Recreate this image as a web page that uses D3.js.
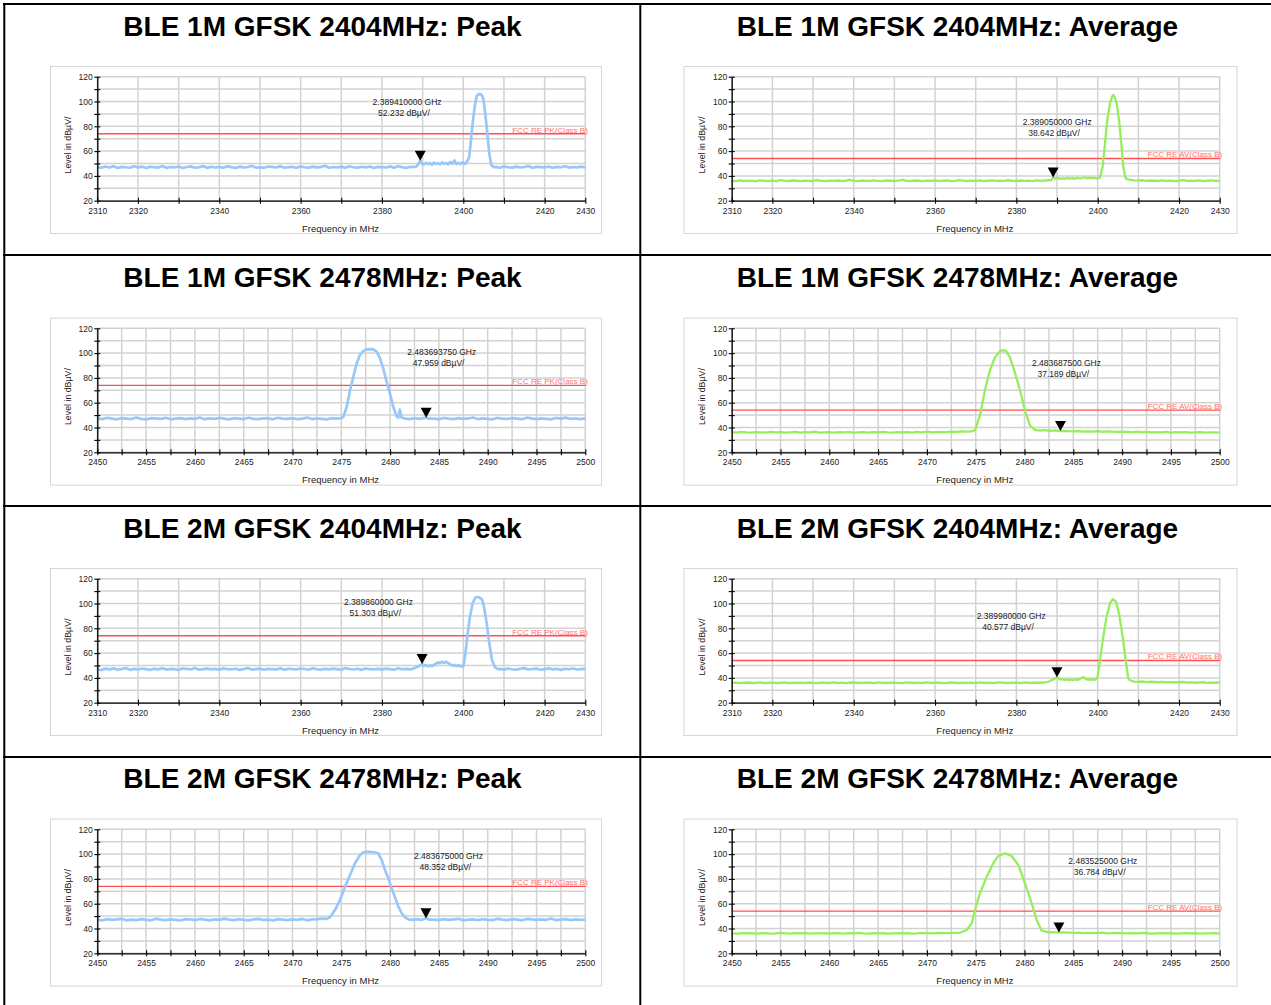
<!DOCTYPE html>
<html>
<head>
<meta charset="utf-8">
<script src="https://cdn.jsdelivr.net/npm/d3@7"></script>
<style>
  body { margin: 0; background: #fff; }
  svg { display: block; }
  text { font-family: "Liberation Sans", Arial, Helvetica, sans-serif; }
</style>
</head>
<body>
<svg id="chart" width="1271" height="1005"></svg>
<script>
// ---- Panel titles (row by row, left then right) ----
const titles = [
  "BLE 1M GFSK 2404MHz: Peak", "BLE 1M GFSK 2404MHz: Average",
  "BLE 1M GFSK 2478MHz: Peak", "BLE 1M GFSK 2478MHz: Average",
  "BLE 2M GFSK 2404MHz: Peak", "BLE 2M GFSK 2404MHz: Average",
  "BLE 2M GFSK 2478MHz: Peak", "BLE 2M GFSK 2478MHz: Average"
];
const detectors = ["peak", "avg", "peak", "avg", "peak", "avg", "peak", "avg"];

// ---- Limits (dBµV/m) ----
const peakLimit = 74;
const avgLimit = 54;
const peakLimitName = "FCC RE PK(Class B)";
const avgLimitName = "FCC RE AV(Class B)";

// ---- Axes ----
const lowSpan = [2310, 2430];
const highSpan = [2450, 2500];
const lowTickLabels = [2310, 2320, 2340, 2360, 2380, 2400, 2420, 2430];
const highTickLabels = [2450, 2455, 2460, 2465, 2470, 2475, 2480, 2485, 2490, 2495, 2500];
const levelSpan = [20, 120];
const levelTickLabels = [20, 40, 60, 80, 100, 120];

// ---- Markers ----
const markerFreqs = [2389.41, 2389.05, 2483.69375, 2483.6875, 2389.86, 2389.98, 2483.675, 2483.525];
const markerLevels = [52.232, 38.642, 47.959, 37.189, 51.303, 40.577, 48.352, 36.784];

// ---- Traces: floor samples from the span start (lower) and up to the span end (upper),
//      plus the [MHz, dBµV/m] points around the carrier ----
// 1M 2404 peak (1 MHz steps)
const pk1m2404Lower = [
  47.2,46.5,47.6,46.8,47.9,46.4,47.3,47.0,46.6,47.8,
  46.9,47.5,46.3,47.4,47.1,46.7,48.0,46.5,47.3,46.9,
  47.6,46.4,47.2,47.7,46.6,47.0,47.9,46.5,47.4,46.8,
  47.3,46.6,47.8,47.1,46.4,47.5,46.9,47.2,48.1,46.7,
  47.0,46.5,47.6,47.3,46.8,47.9,46.6,47.1,47.4,46.5,
  47.7,47.0,46.7,47.5,46.9,47.3,48.2,46.6,47.2,46.8,
  47.5,46.5,47.8,47.0,46.7,47.4,46.9,47.6,46.4,47.3,
  47.1,46.8,47.7,46.6,47.9,47.0,46.5,47.4,47.2
];
const pk1m2404Upper = [
  47.3,46.6,47.8,47.0,46.7,47.5,46.9,47.2,48.0,46.5,
  47.4,47.1,46.8,47.6,46.6,47.3,47.0,47.8,46.7,47.2,
  46.9,47.5,46.8
];
const pk1m2404Carrier = [
  [2388.5,47.6],[2389.0,49.8],[2389.41,52.232],[2389.8,50.1],[2390.3,49.2],[2390.8,50.6],
  [2391.3,49.5],[2391.8,50.3],[2392.3,49.0],[2392.8,50.8],[2393.3,49.6],[2393.8,50.2],
  [2394.3,49.3],[2394.8,50.9],[2395.3,49.7],[2395.8,50.4],[2396.3,49.4],[2396.8,51.2],
  [2397.3,49.8],[2397.8,52.5],[2398.3,49.6],[2398.8,50.5],[2399.3,49.5],[2399.8,51.0],
  [2400.3,49.7],[2400.7,50.4],[2401.0,52.0],[2401.47,55.5],[2401.8,66.3],[2402.3,82.4],
  [2402.8,95.8],[2403.29,104.4],[2403.78,106.0],[2404.42,105.8],[2404.9,102.6],[2405.4,90.5],
  [2405.9,74.4],[2406.39,58.2],[2406.88,48.8],[2407.2,47.8],[2407.5,47.1]
];

// 1M 2404 average (1 MHz steps)
const av1m2404Lower = [
  36.1,35.8,36.3,35.9,36.2,36.0,35.7,36.4,36.1,35.9,
  36.2,35.8,36.6,36.0,35.9,36.3,36.1,35.8,36.2,36.0,
  35.9,36.5,36.1,35.8,36.2,36.0,36.3,35.9,36.1,36.7,
  36.0,35.8,36.2,36.1,35.9,36.4,36.0,35.8,36.3,36.1,
  35.9,36.2,36.8,36.0,35.9,36.3,36.1,35.8,36.2,36.0,
  36.4,35.9,36.1,36.3,35.8,36.0,36.6,36.1,35.9,36.2,
  36.0,36.3,35.8,36.1,36.4,35.9,36.2,36.0,36.5,36.1,
  35.9,36.3,36.0,36.2,35.8,36.4,36.1,36.3,36.6
];
const av1m2404Upper = [
  36.8,36.4,36.2,36.5,36.0,36.3,36.1,35.9,36.4,36.0,
  36.2,35.8,36.1,36.5,35.9,36.2,36.0,36.3,35.8,36.1,
  36.4,35.9,36.0
];
const av1m2404Carrier = [
  [2388.5,36.4],[2389.05,38.642],[2389.6,37.8],[2390.2,38.3],[2390.8,37.6],[2391.4,38.1],
  [2392.0,37.7],[2392.6,38.4],[2393.2,37.8],[2393.8,38.2],[2394.4,37.6],[2395.0,38.5],
  [2395.6,37.9],[2396.2,38.3],[2396.8,38.9],[2397.4,38.0],[2398.0,38.6],[2398.6,38.1],
  [2399.2,38.4],[2399.8,38.0],[2400.3,38.3],[2400.56,38.8],[2401.22,47.4],[2401.79,66.3],
  [2402.36,85.1],[2403.02,98.5],[2403.59,104.4],[2403.85,105.2],[2404.08,104.4],[2404.67,98.5],
  [2405.23,85.1],[2405.8,66.3],[2406.29,47.4],[2406.88,37.9],[2407.5,37.2]
];

// 1M 2478 peak (0.5 MHz steps)
const pk1m2478Lower = [
  47.4,46.7,47.9,47.1,46.6,47.6,47.2,46.8,48.0,47.0,
  46.6,47.5,47.3,46.9,47.8,46.6,47.2,47.6,46.8,47.4,
  47.0,48.1,46.7,47.3,46.9,47.7,47.1,46.6,47.5,47.2,
  46.8,47.9,47.0,46.7,47.4,47.3,46.6,47.8,47.1,46.9,
  47.6,46.7,47.2,48.0,46.8,47.4,47.0,46.6,47.5,47.2
];
const pk1m2478Upper = [
  47.1,46.6,47.7,47.2,46.8,47.5,46.9,47.3,48.1,46.7,
  47.4,47.0,46.6,47.8,47.2,46.9,47.5,47.1,46.7,47.9,
  47.3,46.8,47.4,47.0,46.6,47.7,47.2,48.0,46.9,47.3,
  46.7,47.3
];
const pk1m2478Carrier = [
  [2475.0,47.6],[2475.2,48.4],[2475.55,56.5],[2475.9,70.0],[2476.23,80.8],[2476.58,91.6],
  [2476.9,98.4],[2477.25,101.8],[2477.6,103.0],[2477.95,103.2],[2478.28,103.0],[2478.63,101.0],
  [2478.97,95.7],[2479.3,87.6],[2479.65,76.7],[2479.99,67.3],[2480.33,56.5],[2480.68,48.9],
  [2480.85,48.0],[2481.0,54.4],[2481.15,48.2],[2481.5,47.2],[2482.0,46.8],[2482.5,47.5],
  [2483.0,47.0],[2483.69375,47.959],[2484.0,47.1]
];

// 1M 2478 average (0.5 MHz steps)
const av1m2478Lower = [
  36.2,35.9,36.4,36.0,35.8,36.3,36.1,35.9,36.5,36.0,
  36.2,35.8,36.1,36.4,35.9,36.2,36.0,36.6,35.9,36.1,
  36.3,35.8,36.2,36.0,36.4,35.9,36.1,36.3,35.8,36.2,
  36.0,36.5,36.1,35.9,36.3,36.0,36.2,35.8,36.4,36.1,
  36.6,36.0,36.3,36.5,36.2,36.7,36.4,36.8,36.6
];
const av1m2478Upper = [
  37.0,36.8,37.1,36.7,36.9,36.6,37.0,36.5,36.8,36.6,
  36.4,36.7,36.5,36.3,36.6,36.2,36.5,36.0,36.3,36.1,
  36.4,35.9,36.2,36.0,36.3,35.8,36.1,36.2,35.9,36.0,
  36.1,35.8
];
const av1m2478Carrier = [
  [2474.5,36.9],[2474.93,37.6],[2475.44,49.7],[2475.95,70.0],[2476.46,86.2],[2476.98,96.7],
  [2477.49,101.6],[2477.8,102.4],[2478.1,101.8],[2478.5,96.7],[2479.0,84.6],[2479.54,70.0],
  [2480.05,53.8],[2480.56,41.6],[2481.07,38.0],[2481.6,37.4],[2482.1,37.8],[2482.6,37.2],
  [2483.1,37.6],[2483.6875,37.189],[2484.0,37.3]
];

// 2M 2404 peak (1 MHz steps)
const pk2m2404Lower = [
  47.0,46.4,47.5,46.9,47.7,46.6,47.2,47.9,46.5,47.3,
  46.8,47.6,47.1,46.5,47.4,46.9,47.8,46.7,47.2,47.0,
  46.5,47.6,47.3,46.8,48.0,46.6,47.1,47.5,46.9,47.3,
  46.6,47.7,47.0,46.8,47.4,46.5,47.2,47.9,46.7,47.1,
  47.5,46.6,47.3,47.0,46.8,47.7,46.5,47.4,47.1,46.9,
  47.6,47.2,46.6,47.8,47.0,46.7,47.3,46.9,47.5,47.1,
  46.6,47.9,47.2,46.8,47.4,46.5,47.6,47.0,46.9,47.3,
  46.7,47.5,47.1,46.6,47.8,47.0,47.3,46.8
];
const pk2m2404Upper = [
  47.3,46.7,47.6,47.0,46.6,47.4,47.9,46.8,47.2,47.5,
  46.6,47.1,47.7,46.9,47.3,46.5,47.4,47.0,47.6,46.8,
  47.2,47.0
];
const pk2m2404Carrier = [
  [2387.5,47.3],[2388.0,47.9],[2388.5,48.6],[2389.0,49.4],[2389.5,50.2],[2389.86,51.303],
  [2390.3,49.6],[2390.8,50.4],[2391.3,49.3],[2391.8,50.1],[2392.3,49.5],[2392.8,50.6],
  [2393.3,51.4],[2393.8,52.6],[2394.3,51.8],[2394.8,53.2],[2395.3,52.1],[2395.8,53.0],
  [2396.3,51.9],[2396.8,51.0],[2397.3,49.8],[2397.8,50.5],[2398.3,49.4],[2398.8,50.2],
  [2399.3,49.3],[2399.7,49.8],[2399.99,49.0],[2400.41,57.1],[2400.98,73.2],[2401.64,89.4],
  [2402.3,100.2],[2402.94,104.7],[2403.45,105.2],[2403.93,105.0],[2404.59,103.4],[2405.08,97.4],
  [2405.75,84.0],[2406.39,67.9],[2407.05,54.4],[2407.79,48.5],[2408.2,47.6],[2408.6,47.1]
];

// 2M 2404 average (1 MHz steps)
const av2m2404Lower = [
  36.0,36.2,35.8,36.1,36.3,35.9,36.0,36.4,35.8,36.1,
  36.2,35.9,36.0,36.3,35.8,36.1,36.0,36.2,35.9,36.3,
  36.0,35.8,36.2,36.1,35.9,36.4,36.0,36.2,35.8,36.1,
  36.3,35.9,36.0,36.2,36.1,35.8,36.3,36.0,35.9,36.2,
  36.1,36.0,35.8,36.3,36.1,35.9,36.2,36.0,36.4,35.9,
  36.1,36.2,35.8,36.0,36.3,36.1,35.9,36.2,36.0,36.1,
  35.8,36.3,36.0,36.2,35.9,36.1,36.4,36.0,35.9,36.2,
  36.1,35.8,36.3,36.0,36.2,36.1,36.3
];
const av2m2404Upper = [
  37.0,36.8,37.1,36.6,36.9,36.7,36.5,36.8,36.4,36.6,
  36.3,36.5,36.7,36.2,36.4,36.1,36.3,36.5,36.0,36.2,
  36.1,36.3
];
const av2m2404Carrier = [
  [2387.0,36.3],[2387.5,36.6],[2388.0,37.1],[2388.5,37.9],[2389.0,38.7],[2389.5,39.5],
  [2389.98,40.577],[2390.5,39.4],[2391.0,38.6],[2391.5,39.0],[2392.0,38.4],[2392.5,38.9],
  [2393.0,38.2],[2393.5,38.7],[2394.0,38.3],[2394.5,38.8],[2395.0,38.4],[2395.5,39.2],
  [2396.0,39.8],[2396.5,40.6],[2397.0,39.3],[2397.5,38.6],[2398.0,38.9],[2398.5,38.5],
  [2399.0,38.8],[2399.5,38.6],[2400.0,41.0],[2400.56,54.4],[2401.37,73.2],[2402.2,89.4],
  [2403.02,100.2],[2403.68,103.4],[2404.5,101.5],[2405.3,90.7],[2406.14,73.2],[2406.88,54.4],
  [2407.52,39.7],[2408.0,37.9],[2408.35,37.6]
];

// 2M 2478 peak (0.5 MHz steps)
const pk2m2478Lower = [
  47.1,46.5,47.6,46.9,47.3,47.8,46.6,47.2,46.8,47.5,
  47.0,46.6,47.9,47.2,46.7,47.4,47.0,46.5,47.6,47.3,
  46.8,47.7,47.1,46.6,47.4,46.9,48.0,47.2,46.7,47.5,
  47.0,46.6,47.3,47.8,46.9,47.2,46.5,47.6,47.1,46.8,
  47.4,47.0,47.7,46.6,47.3,47.5,47.9
];
const pk2m2478Upper = [
  47.2,46.8,47.5,46.9,47.3,47.8,46.6,47.1,47.4,46.8,
  47.6,47.0,46.7,47.9,47.2,46.8,47.5,47.1,46.6,47.7,
  47.3,46.9,47.4,47.0,48.1,46.7,47.2,47.5,46.8,47.3,
  46.9,47.1
];
const pk2m2478Carrier = [
  [2473.5,47.8],[2473.84,49.0],[2474.35,54.9],[2474.87,63.0],[2475.38,73.7],[2475.89,83.1],
  [2476.4,92.6],[2476.92,99.3],[2477.25,101.5],[2477.7,101.8],[2478.2,101.7],[2478.79,100.6],
  [2479.14,95.2],[2479.48,87.2],[2479.82,80.5],[2480.16,72.4],[2480.5,65.2],[2480.84,57.6],
  [2481.19,52.3],[2481.53,49.0],[2481.87,47.4],[2482.3,47.0],[2482.8,47.5],[2483.2,46.9],
  [2483.675,48.352],[2484.0,47.2]
];

// 2M 2478 average (0.5 MHz steps)
const av2m2478Lower = [
  36.1,35.9,36.2,36.0,36.3,35.8,36.1,36.2,35.9,36.0,
  36.4,36.1,35.8,36.2,36.0,36.3,35.9,36.1,36.0,36.2,
  35.8,36.3,36.1,35.9,36.2,36.0,36.4,36.1,35.9,36.2,
  36.0,36.3,35.8,36.1,36.2,36.0,36.3,35.9,36.1,36.4,
  36.2,36.0,36.3,36.5,36.2,36.4
];
const av2m2478Upper = [
  36.6,36.4,36.7,36.3,36.5,36.2,36.4,36.6,36.1,36.3,
  36.5,36.2,36.0,36.3,36.1,36.4,36.2,35.9,36.1,36.3,
  36.0,36.2,35.8,36.1,36.3,36.0,36.2,35.9,36.1,36.0,
  36.2,35.9
];
const av2m2478Carrier = [
  [2473.0,36.5],[2473.39,36.6],[2474.08,38.8],[2474.59,44.2],[2474.93,54.9],[2475.44,68.4],
  [2476.13,81.8],[2476.8,92.6],[2477.32,98.5],[2478.0,100.6],[2478.69,98.5],[2479.37,91.2],
  [2480.05,76.5],[2480.74,60.3],[2481.25,46.9],[2481.76,38.2],[2482.44,36.9],[2482.9,37.1],
  [2483.525,36.784],[2484.0,36.8]
];

const traceParts = [
  [pk1m2404Lower, pk1m2404Carrier, pk1m2404Upper],
  [av1m2404Lower, av1m2404Carrier, av1m2404Upper],
  [pk1m2478Lower, pk1m2478Carrier, pk1m2478Upper],
  [av1m2478Lower, av1m2478Carrier, av1m2478Upper],
  [pk2m2404Lower, pk2m2404Carrier, pk2m2404Upper],
  [av2m2404Lower, av2m2404Carrier, av2m2404Upper],
  [pk2m2478Lower, pk2m2478Carrier, pk2m2478Upper],
  [av2m2478Lower, av2m2478Carrier, av2m2478Upper]
];

// ---- Layout ----
const W = 1271, H = 1005;
const cols = [
  { plotL: 97.3, frameL: 50, frameW: 551, titleX: 322.5 },
  { plotL: 731.7, frameL: 683.5, frameW: 553, titleX: 957.5 }
];
const rowTops = [76.7, 328.3, 578.7, 829.3];
const plotW = 488, plotH = 124;
const gridRuleY = [4, 255, 506, 757];
// where each marker readout sits, in the panel's own MHz / dB units
const readoutAt = [
  [2377.7, 99.4], [2381.55, 83.5],
  [2481.76, 100.5], [2480.77, 91.9],
  [2370.66, 101.0], [2370.24, 89.9],
  [2482.45, 98.7], [2484.49, 94.4]
];

const colors = {
  peak: "#97c8f9",
  avg: "#96ee5c",
  limit: "#ff4f4f",
  limitText: "#ff6f6f",
  grid: "#d2d2d2",
  frame: "#d6d6d6"
};

const svg = d3.select("#chart");
svg.append("rect").attr("width", W).attr("height", H).attr("fill", "#fff");

titles.forEach((title, k) => {
  const col = cols[k % 2];
  const top = rowTops[Math.floor(k / 2)];
  const isLow = Math.floor(k / 2) % 2 === 0;
  const span = isLow ? lowSpan : highSpan;
  const tickLabels = isLow ? lowTickLabels : highTickLabels;
  const tickStep = isLow ? 10 : 2.5;
  const det = detectors[k];

  const x = d3.scaleLinear().domain(span).range([col.plotL, col.plotL + plotW]);
  const y = d3.scaleLinear().domain(levelSpan).range([top + plotH, top]);

  const g = svg.append("g");

  // title
  g.append("text")
    .attr("x", col.titleX).attr("y", top - 41)
    .attr("text-anchor", "middle")
    .attr("font-size", 28).attr("font-weight", "bold")
    .attr("fill", "#000")
    .text(title);

  // chart frame
  g.append("rect")
    .attr("x", col.frameL + 0.5).attr("y", top - 10.7 + 0.5)
    .attr("width", col.frameW).attr("height", 167)
    .attr("fill", "#fff").attr("stroke", colors.frame).attr("stroke-width", 1);

  // grid
  const xGrid = d3.range(span[0], span[1] + 0.001, tickStep);
  const yGrid = d3.range(levelSpan[0], levelSpan[1] + 0.001, 10);
  g.append("g").selectAll("line").data(xGrid).join("line")
    .attr("x1", d => x(d)).attr("x2", d => x(d))
    .attr("y1", y(levelSpan[1])).attr("y2", y(levelSpan[0]))
    .attr("stroke", colors.grid).attr("stroke-width", 1.5);
  g.append("g").selectAll("line").data(yGrid).join("line")
    .attr("x1", x(span[0])).attr("x2", x(span[1]))
    .attr("y1", d => y(d)).attr("y2", d => y(d))
    .attr("stroke", colors.grid).attr("stroke-width", 1.5);

  // limit line
  const limit = det === "peak" ? peakLimit : avgLimit;
  g.append("line")
    .attr("x1", x(span[0])).attr("x2", x(span[1]))
    .attr("y1", y(limit)).attr("y2", y(limit))
    .attr("stroke", colors.limit).attr("stroke-width", 1.4);

  // trace
  const [lower, carrier, upper] = traceParts[k];
  const step = isLow ? 1 : 0.5;
  const pts = lower.map((v, i) => [span[0] + i * step, v])
    .concat(carrier)
    .concat(upper.map((v, i) => [span[1] - (upper.length - 1 - i) * step, v]));
  g.append("path")
    .datum(pts)
    .attr("d", d3.line().x(d => x(d[0])).y(d => y(d[1])))
    .attr("fill", "none")
    .attr("stroke", det === "peak" ? colors.peak : colors.avg)
    .attr("stroke-width", det === "peak" ? 2.7 : 2.3)
    .attr("stroke-linejoin", "round");

  // axes
  const xAxis = g.append("g")
    .attr("transform", `translate(0,${y(levelSpan[0])})`)
    .call(d3.axisBottom(x).tickValues(xGrid).tickSize(3).tickSizeOuter(0).tickPadding(4)
      .tickFormat(d => tickLabels.includes(d) ? d : ""));
  const yAxis = g.append("g")
    .attr("transform", `translate(${x(span[0])},0)`)
    .call(d3.axisLeft(y).tickValues(yGrid).tickSize(3).tickSizeOuter(0).tickPadding(1.5)
      .tickFormat(d => levelTickLabels.includes(d) ? d : ""));
  [xAxis, yAxis].forEach(a => {
    a.select(".domain").attr("stroke", "#000").attr("stroke-width", 1.3);
    a.selectAll(".tick line").attr("stroke", "#000").attr("stroke-width", 1.1);
    a.selectAll(".tick text").attr("font-size", 8.5).attr("fill", "#222")
      .attr("font-family", '"Liberation Sans", Arial, sans-serif');
  });
  xAxis.selectAll(".tick line").attr("y1", -3).attr("y2", 3);
  yAxis.selectAll(".tick line").attr("x1", 3).attr("x2", -3);

  // axis titles
  g.append("text")
    .attr("x", (x(span[0]) + x(span[1])) / 2 - 0.8).attr("y", y(levelSpan[0]) + 30.8)
    .attr("text-anchor", "middle").attr("font-size", 9.5).attr("fill", "#222")
    .text("Frequency in MHz");
  g.append("text")
    .attr("transform", `translate(${x(span[0]) - 29.3},${top + 68.3}) rotate(-90)`)
    .attr("text-anchor", "middle").attr("dy", "0.35em")
    .attr("font-size", 8.8).attr("fill", "#222")
    .text("Level in dBµV/");

  // limit name
  g.append("text")
    .attr("x", x(span[1]) + 2.5).attr("y", y(limit) - 1.2)
    .attr("text-anchor", "end").attr("font-size", 8).attr("fill", colors.limitText)
    .text(det === "peak" ? peakLimitName : avgLimitName);

  // marker
  const mx = x(markerFreqs[k]), my = y(markerLevels[k]);
  g.append("path")
    .attr("d", `M${mx},${my}L${mx - 5.5},${my - 10}L${mx + 5.5},${my - 10}Z`)
    .attr("fill", "#000");

  // marker readout
  const [rf, rl] = readoutAt[k];
  const rx = x(rf), ry = y(rl);
  const readout = g.append("text").attr("font-size", 8.5).attr("fill", "#222");
  readout.append("tspan").attr("x", rx).attr("y", ry).attr("dy", "0.35em")
    .text((markerFreqs[k] / 1000).toFixed(9) + " GHz");
  readout.append("tspan").attr("x", rx + 5.5).attr("y", ry + 11).attr("dy", "0.35em")
    .text(markerLevels[k].toFixed(3) + " dBµV/");
});

// table rules around the panels
const rules = svg.append("g").attr("stroke", "#000").attr("stroke-width", 2);
gridRuleY.forEach(yy => rules.append("line").attr("x1", 3).attr("x2", W).attr("y1", yy).attr("y2", yy));
[4.3, 640.3].forEach(xx => rules.append("line").attr("x1", xx).attr("x2", xx).attr("y1", 3).attr("y2", H));
</script>
</body>
</html>
